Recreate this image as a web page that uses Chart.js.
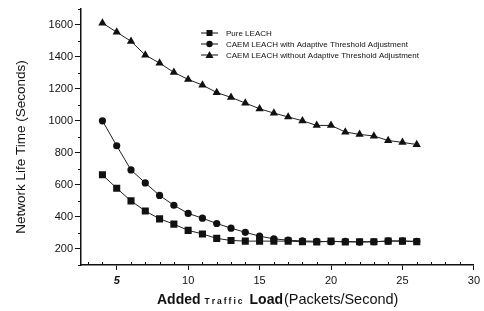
<!DOCTYPE html>
<html>
<head>
<meta charset="utf-8">
<script src="https://cdn.jsdelivr.net/npm/chart.js@4/dist/chart.umd.min.js"></script>
<style>
  html, body { margin: 0; padding: 0; background: #fff; }
  #wrap { width: 484px; height: 311px; }
</style>
</head>
<body>
<div id="wrap"><canvas id="lifeChart" width="484" height="311"></canvas></div>
<script>
const loads = [4, 5, 6, 7, 8, 9, 10, 11, 12, 13, 14, 15, 16, 17, 18, 19, 20, 21, 22, 23, 24, 25, 26];
const pureLeach = [663, 579, 500, 437, 388, 355, 316, 294, 266, 253, 249, 249, 249, 249, 245, 243, 249, 243, 245, 245, 249, 249, 245];
const caemAdaptive = [1000, 844, 693, 612, 534, 473, 422, 392, 359, 330, 304, 280, 263, 255, 250, 248, 245, 248, 243, 245, 250, 250, 248];
const caemNoAdaptive = [1610, 1553, 1496, 1410, 1360, 1302, 1258, 1223, 1176, 1146, 1111, 1075, 1048, 1024, 1000, 971, 971, 930, 915, 905, 877, 865, 852];
const seriesNames = [
    "Pure LEACH",
    "CAEM LEACH with Adaptive Threshold Adjustment",
    "CAEM LEACH without Adaptive Threshold Adjustment",
];
const xTickValues = [5, 10, 15, 20, 25, 30];
const yTickValues = [200, 400, 600, 800, 1000, 1200, 1400, 1600];

const ink = "#111";
const fontFamily = "'Liberation Sans', Arial, sans-serif";

function series(label, values, style, radius) {
    return {
        label,
        data: loads.map((x, i) => ({ x, y: values[i] })),
        borderColor: "#222",
        borderWidth: 1,
        backgroundColor: ink,
        pointStyle: style,
        pointRadius: radius,
        pointBorderWidth: 0,
        pointBackgroundColor: ink,
        tension: 0,
    };
}

const legendAndTitles = {
    id: "legendAndTitles",
    afterDraw(chart) {
        const ctx = chart.ctx;
        const xs = chart.scales.x;
        const ys = chart.scales.y;
        ctx.save();
        ctx.strokeStyle = ink;
        ctx.lineWidth = 1;
        // minor ticks
        for (let v = 3; v <= 30; v++) {
            if (v % 5 === 0) continue;
            const px = Math.round(xs.getPixelForValue(v)) + 0.5;
            ctx.beginPath();
            ctx.moveTo(px, ys.bottom);
            ctx.lineTo(px, ys.bottom - 3);
            ctx.stroke();
        }
        for (let v = 100; v <= 1700; v += 200) {
            const py = Math.round(ys.getPixelForValue(v)) + 0.5;
            ctx.beginPath();
            ctx.moveTo(xs.left, py);
            ctx.lineTo(xs.left - 3, py);
            ctx.stroke();
        }

        // legend inside the plot
        const styles = ["rect", "circle", "triangle"];
        const rows = [33, 44, 55];
        ctx.font = "8px " + fontFamily;
        ctx.textBaseline = "middle";
        ctx.fillStyle = ink;
        rows.forEach((y, i) => {
            ctx.beginPath();
            ctx.moveTo(201, y);
            ctx.lineTo(218, y);
            ctx.stroke();
            const cx = 209.5;
            ctx.beginPath();
            if (styles[i] === "rect") {
                ctx.rect(cx - 3, y - 3, 6, 6);
            } else if (styles[i] === "circle") {
                ctx.arc(cx, y, 3.2, 0, Math.PI * 2);
            } else {
                ctx.moveTo(cx, y - 4);
                ctx.lineTo(cx + 4, y + 3);
                ctx.lineTo(cx - 4, y + 3);
                ctx.closePath();
            }
            ctx.fill();
            ctx.fillText(seriesNames[i], 226, y + 0.5);
        });

        // y title
        ctx.save();
        ctx.translate(21, 147);
        ctx.rotate(-Math.PI / 2);
        ctx.font = "13.5px " + fontFamily;
        ctx.textAlign = "center";
        ctx.textBaseline = "middle";
        ctx.fillText("Network Life Time (Seconds)", 0, 0);
        ctx.restore();

        // x title with mixed styles
        const parts = [
            { text: "Added", font: "bold 14px " + fontFamily, gap: 4, spacing: 0 },
            { text: "Traffic", font: "bold 8.5px " + fontFamily, gap: 5, spacing: 2 },
            { text: "Load", font: "bold 14px " + fontFamily, gap: 1, spacing: 0 },
            { text: "(Packets/Second)", font: "14.5px " + fontFamily, gap: 0, spacing: 0 },
        ];
        ctx.textAlign = "left";
        ctx.textBaseline = "alphabetic";
        let x = 157;
        const baseY = 304;
        parts.forEach((p) => {
            ctx.font = p.font;
            for (const ch of p.text) {
                ctx.fillText(ch, x, baseY);
                x += ctx.measureText(ch).width + p.spacing;
            }
            x += p.gap;
        });
        ctx.restore();
    },
};

new Chart(document.getElementById("lifeChart"), {
    type: "line",
    data: {
        datasets: [
            series(seriesNames[0], pureLeach, "rect", 5),
            series(seriesNames[1], caemAdaptive, "circle", 3.6),
            series(seriesNames[2], caemNoAdaptive, "triangle", 4.8),
        ],
    },
    options: {
        responsive: false,
        animation: false,
        layout: { padding: { top: 2, right: 10, left: 0, bottom: 0 } },
        plugins: { legend: { display: false }, tooltip: { enabled: false } },
        scales: {
            x: {
                type: "linear",
                min: 2.5,
                max: 30,
                afterBuildTicks(scale) {
                    scale.ticks = xTickValues.map((value) => ({ value }));
                },
                afterFit(scale) {
                    scale.height = 46;
                },
                border: { color: ink, width: 1.5 },
                grid: { drawOnChartArea: false, color: ink, tickLength: 5 },
                ticks: {
                    color: ink,
                    padding: 4,
                    maxRotation: 0,
                    callback: (value) => String(value),
                    font: (c) => ({
                        family: fontFamily,
                        size: 11,
                        style: c.tick && c.tick.value === 5 ? "italic" : "normal",
                        weight: c.tick && c.tick.value === 5 ? "bold" : "normal",
                    }),
                },
            },
            y: {
                type: "linear",
                min: 100,
                max: 1700,
                afterBuildTicks(scale) {
                    scale.ticks = yTickValues.map((value) => ({ value }));
                },
                afterFit(scale) {
                    scale.width = 81;
                },
                border: { color: ink, width: 1.5 },
                grid: { drawOnChartArea: false, color: ink, tickLength: 6 },
                ticks: {
                    color: ink,
                    padding: 2,
                    callback: (value) => String(value),
                    font: { family: fontFamily, size: 11 },
                },
            },
        },
    },
    plugins: [legendAndTitles],
});
</script>
</body>
</html>
